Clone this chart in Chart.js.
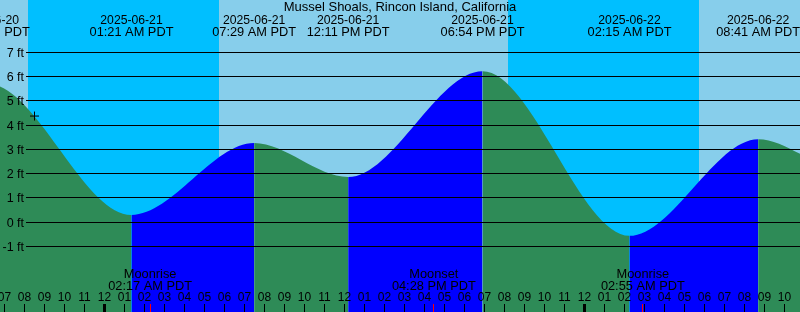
<!DOCTYPE html>
<html lang="en">
<head>
    <meta charset="UTF-8">
    <title>Mussel Shoals, Rincon Island, California</title>
    <script src="https://cdn.jsdelivr.net/npm/chart.js@4/dist/chart.umd.min.js"></script>
    <style>
        body { margin: 0; background: #fff; }
        canvas { display: block; }
    </style>
</head>
<body>
    <canvas id="grafico" width="800" height="312"></canvas>
    <script>
        const titulo = 'Mussel Shoals, Rincon Island, California';

        // hours after 2025-06-21 00:00 PDT (first and last are off screen)
        const tideHours = [-12.4, -5.833, 1.35, 7.483, 12.183, 18.9, 26.25, 32.683, 37.0, 43.6];
        const tideFeet  = [1.4, 5.7, 0.3, 3.26, 1.86, 6.22, -0.56, 3.42, 2.15, 6.0];
        const tideDates = ['2025-06-20', '2025-06-20', '2025-06-21', '2025-06-21', '2025-06-21',
                           '2025-06-21', '2025-06-22', '2025-06-22', '2025-06-22', '2025-06-22'];
        const tideTimes = ['12:00 PM PDT', '06:10 PM PDT', '01:21 AM PDT', '07:29 AM PDT', '12:11 PM PDT',
                           '06:54 PM PDT', '02:15 AM PDT', '08:41 AM PDT', '01:00 PM PDT', '07:36 PM PDT'];

        const sunsetHours  = [-3.83, 20.17];
        const sunriseHours = [5.72, 29.73];

        const moonHours = [2.283, 16.467, 26.917];
        const moonNames = ['Moonrise', 'Moonset', 'Moonrise'];
        const moonTimes = ['02:17 AM PDT', '04:28 PM PDT', '02:55 AM PDT'];

        const gridFeet = [-1, 0, 1, 2, 3, 4, 5, 6, 7];

        const markHour = -3.5;
        const markFeet = 4.37;

        const DIA = '#87CEEB', NOCHE = '#00BFFF', VERDE = '#2E8B57', AZUL = '#0000FF';
        const fuente = px => px + 'px "Liberation Sans", Arial, sans-serif';

        const mareas = {
            id: 'mareas',
            beforeDraw(chart) {
                const c = chart.ctx, x = chart.scales.x, a = chart.chartArea;
                c.save();
                c.fillStyle = DIA;
                c.fillRect(a.left, a.top, a.right - a.left, a.bottom - a.top);
                c.fillStyle = NOCHE;
                sunsetHours.forEach((s, i) => {
                    const x0 = Math.round(x.getPixelForValue(s));
                    const x1 = Math.round(x.getPixelForValue(sunriseHours[i]));
                    c.fillRect(x0, a.top, x1 - x0, a.bottom - a.top);
                });
                c.restore();
            },
            afterDatasetsDraw(chart) {
                const c = chart.ctx, x = chart.scales.x, y = chart.scales.y, a = chart.chartArea;
                c.save();
                c.fillStyle = '#000';
                c.strokeStyle = '#000';
                c.lineWidth = 1;
                c.textBaseline = 'alphabetic';

                // lineas de altura
                c.font = fuente(12.5);
                c.textAlign = 'right';
                gridFeet.forEach(f => {
                    const py = Math.floor(y.getPixelForValue(f)) + 0.5;
                    c.beginPath();
                    c.moveTo(26, py);
                    c.lineTo(a.right, py);
                    c.stroke();
                    c.fillText(f + ' ft', 24, py + 4);
                });

                // pleamares y bajamares
                c.textAlign = 'center';
                tideHours.forEach((h, i) => {
                    const px = x.getPixelForValue(h);
                    c.font = fuente(12.2);
                    c.fillText(tideDates[i], px, 24);
                    c.font = fuente(12.8);
                    c.fillText(tideTimes[i], px, 36);
                });
                c.font = fuente(13);
                c.fillText(titulo, 400, 11);

                // luna
                c.font = fuente(12.8);
                moonHours.forEach((h, i) => {
                    const px = x.getPixelForValue(h);
                    c.fillText(moonNames[i], px, 278);
                    c.fillText(moonTimes[i], px, 290);
                });

                // horas
                c.font = fuente(12);
                for (let h = Math.ceil(x.min); h <= Math.floor(x.max); h++) {
                    const px = Math.floor(x.getPixelForValue(h));
                    const hr = ((h % 24) + 24) % 24;
                    const lbl = String((hr + 11) % 12 + 1).padStart(2, '0');
                    c.fillText(lbl, px + 0.5, 301);
                    if (hr === 0) c.fillRect(px - 1, 304, 3, 8);
                    else c.fillRect(px, 304, 1, 8);
                }
                c.fillStyle = '#FF0000';
                moonHours.forEach(h => {
                    const px = Math.floor(x.getPixelForValue(h));
                    c.fillRect(px, 304, 1, 8);
                });
                c.restore();
            }
        };

        const ctx = document.getElementById('grafico').getContext('2d');
        const graficos = new Chart(ctx, {
            type: 'line',
            data: {
                datasets: [{
                    order: 1,
                    data: tideHours.map((h, i) => ({ x: h, y: tideFeet[i] })),
                    fill: 'start',
                    backgroundColor: VERDE,
                    borderColor: 'rgba(0,0,0,0)',
                    borderWidth: 0,
                    pointRadius: 0,
                    cubicInterpolationMode: 'monotone',
                    capBezierPoints: false,
                    segment: {
                        backgroundColor: s => s.p1.parsed.y < s.p0.parsed.y ? VERDE : AZUL
                    }
                }, {
                    order: 0,
                    data: [{ x: markHour, y: markFeet }],
                    showLine: false,
                    fill: false,
                    clip: false,
                    pointStyle: 'cross',
                    pointRadius: 4.5,
                    borderColor: '#000',
                    borderWidth: 1
                }]
            },
            options: {
                responsive: false,
                animation: false,
                events: [],
                layout: { padding: 0, autoPadding: false },
                scales: {
                    x: { type: 'linear', min: -5.225, max: 34.775, display: false },
                    y: { type: 'linear', min: -3.698, max: 9.149, display: false }
                },
                plugins: {
                    legend: { display: false },
                    tooltip: { enabled: false }
                }
            },
            plugins: [mareas]
        });
    </script>
</body>
</html>
